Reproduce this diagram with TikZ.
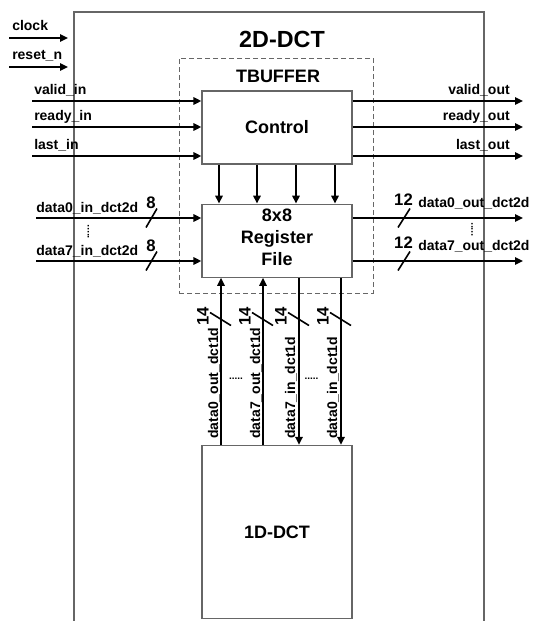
\documentclass[tikz,border=0pt]{standalone}
\usepackage{fontspec}
\setmainfont{Liberation Sans}
\usetikzlibrary{arrows.meta,positioning}
\tikzset{
  blk/.style={
    draw = black!60,
    line width = 0.9pt,
    fill = white,
    inner sep = 0pt,
    align = center,
    minimum width = 112.5pt,
    font = \bfseries\fontsize{13.5}{16.5}\selectfont
  },
  tbuf/.style={
    draw = black!60,
    line width = 0.7pt,
    dash pattern = on 3.5pt off 2.5pt,
    inner sep = 0pt,
    minimum width = 145.5pt,
    minimum height = 176.25pt
  },
  frame/.style={
    draw = black!60,
    line width = 0.9pt
  },
  sig/.style={
    line width = 1.7pt,
    -{Triangle[length=6pt,width=5.5pt]}
  },
  cut/.style={
    line width = 1.2pt
  },
  lbl/.style={
    font = \bfseries\fontsize{10.5}{12}\selectfont,
    inner sep = 0pt
  },
  wid/.style={
    font = \bfseries\fontsize{12.5}{14}\selectfont,
    inner sep = 0pt
  },
  hdr/.style={
    font = \bfseries\fontsize{13.5}{16}\selectfont,
    inner sep = 0pt
  },
  dotz/.style={
    font = \bfseries\fontsize{7.5}{9}\selectfont,
    inner sep = 0pt
  }
}
\begin{document}
\begin{tikzpicture}[x=0.75pt,y=-0.75pt]
    \useasboundingbox (0,0) rectangle (533,621);
    % top level, open at the bottom
    \draw[frame] (74,630) -- (74,12) -- (484,12) -- (484,630);
    \node[font=\bfseries\fontsize{17.5}{20}\selectfont, inner sep=0pt, anchor=base] (top) at (282,47) {2D-DCT};
    \node[tbuf] (buf) at (276,175.5) {};
    \node[hdr, anchor=base] (buflbl) at (278,82) {TBUFFER};
    \node[blk, minimum height=54.75pt] (ctrl) at (277,127.5) {Control};
    \node[blk, minimum height=54.75pt, text depth=4.5pt, below=29.25pt of ctrl] (reg) {8x8\\Register\\File};
    \node[blk, minimum height=129.75pt, below=125.25pt of reg] (one) {1D-DCT};
    % clock and reset
    \foreach \y/\t/\s in {38/clock/clock, 67/reset/reset\_n}{
        \coordinate (src\t) at (9,\y);
        \coordinate (dst\t) at (68,\y);
        \node[lbl, anchor=base west] at (12,\y-7.5) {\s};
        \draw[sig] (src\t) -- (dst\t);
    }
    % handshake
    \foreach \y/\t in {101/valid, 127/ready, 156/last}{
        \coordinate (src\t) at (32,\y);
        \coordinate (dst\t) at (523,\y);
        \node[lbl, anchor=base west] at (34,\y-7) {\t\_in};
        \node[lbl, anchor=base east] at (510,\y-7) {\t\_out};
        \draw[sig] (src\t) -- (src\t -| ctrl.west);
        \draw[sig] (dst\t -| ctrl.east) -- (dst\t);
    }
    \foreach \x in {219,257,296,335}{
        \draw[sig] (\x,0 |- ctrl.south) -- (\x,0 |- reg.north);
    }
    % 2D data
    \foreach \y/\n in {218/0, 261/7}{
        \coordinate (din\n) at (36,\y);
        \coordinate (dout\n) at (523,\y);
        \node[lbl, anchor=base west] at (36,\y-6) {data\n\_in\_dct2d};
        \node[lbl, anchor=base west] at (418,\y-10.5) {data\n\_out\_dct2d};
        \draw[sig] (din\n) -- (din\n -| reg.west);
        \draw[sig] (dout\n -| reg.east) -- (dout\n);
        \draw[cut] (146,\y+9.5) -- (157,\y-9.5);
        \node[wid, anchor=base] at (151,\y-9.5) {8};
        \draw[cut] (398,\y+9.5) -- (410,\y-9.5);
        \node[wid, anchor=base] at (403.5,\y-12.5) {12};
    }
    \node[dotz, rotate=90] at (88.5,232) {.....};
    \node[dotz, rotate=90] at (472,229.5) {.....};
    % 1D data
    \foreach \x/\n in {221/0, 263/7}{
        \draw[sig] (\x,0 |- one.north) -- (\x,0 |- reg.south);
        \node[lbl, rotate=90, anchor=base west] at (\x-3,439) {data\n\_out\_dct1d};
    }
    \foreach \x/\n in {299/7, 341/0}{
        \draw[sig] (\x,0 |- reg.south) -- (\x,0 |- one.north);
        \node[lbl, rotate=90, anchor=base west] at (\x-4,439) {data\n\_in\_dct1d};
    }
    \foreach \x in {221,263,299,341}{
        \draw[cut] (\x-11,312.5) -- (\x+10,325.5);
        \node[wid, rotate=90] at (\x-18,316) {14};
    }
    \node[dotz] at (236,379) {.....};
    \node[dotz] at (311.5,379) {.....};
\end{tikzpicture}
\end{document}
